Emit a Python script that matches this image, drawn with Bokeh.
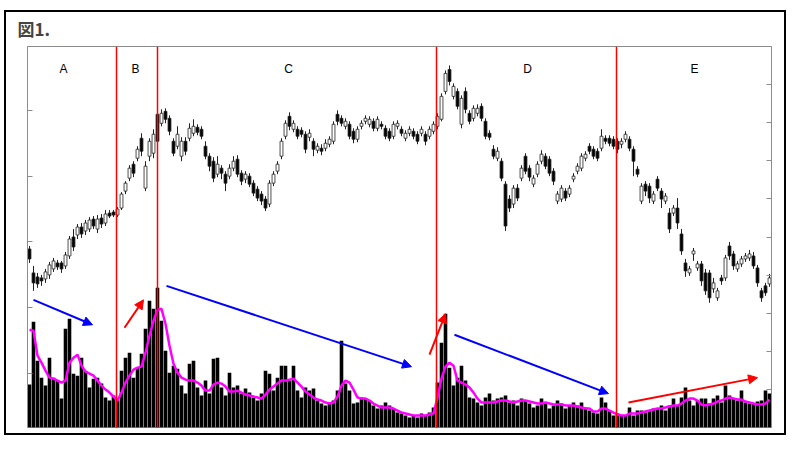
from bokeh.plotting import figure
from bokeh.models import (Range1d, LinearAxis, FixedTicker, Span, Arrow, NormalHead,
                          ColumnDataSource, CustomLabelingPolicy)
from bokeh.embed import file_html
from bokeh.resources import INLINE
from bokeh.core.properties import value

# ---------------- data ----------------
open_ = [252,228,224,223,222,226,232,238,238,235, 245,264,266,274,270,272,282,272,283,278,
         288,289,286,293,310,323,337,343,363,313, 345,348,387,378,390,383,360,355,345,360,
         363,368,374,372,355,345,340,327,333,327, 325,333,342,328,322,325,318,312,307,302,
         297,318,330,345,365,385,372,372,371,367, 364,360,351,353,353,357,360,387,383,375,
         377,370,362,375,380,377,380,373,377,373, 370,365,375,372,363,368,370,367,368,367,
         365,370,375,382,410,432,405,410,377,410, 388,383,388,395,380,368,352,343,340,317,
         302,297,313,323,345,333,317,327,340,345, 342,330,300,302,310,307,322,330,333,343,
         355,352,350,353,363,363,362,360,357,362, 362,352,332,300,317,315,300,322,310,300,
         288,288,293,267,238,228,247,233,237,228, 228,212,203,223,223,255,247,232,237,242,
         243,245,233,210,215,217]
close = [242,218,217,220,229,236,240,234,232,246, 262,254,274,267,278,281,275,282,277,287,
         285,286,292,307,318,333,328,352,350,335, 360,367,360,388,382,370,348,367,360,350,
         373,375,369,365,345,335,323,337,328,318, 333,340,327,320,327,317,308,303,300,293,
         318,327,337,360,378,375,378,365,367,352, 368,352,355,350,358,362,377,380,378,380,
         365,362,372,378,383,382,373,382,375,365, 363,377,378,368,368,372,365,360,372,360,
         372,377,385,405,428,420,415,395,403,392, 380,393,393,383,365,364,345,350,323,275,
         293,313,303,333,330,324,323,337,347,335, 328,320,307,313,303,313,325,335,345,347,
         350,345,343,365,360,358,355,352,360,367, 353,340,327,315,310,303,307,313,302,305,
         272,293,278,250,230,232,250,237,220,210, 203,218,210,220,243,245,235,237,242,245,
         247,235,218,203,208,223]
high = [255,235,228,226,232,239,243,241,240,249, 265,272,277,278,281,284,285,286,287,291,
        291,291,294,309,320,336,340,355,368,340, 363,372,392,392,393,386,363,375,364,364,
        378,382,377,375,360,348,344,345,336,330, 337,345,346,331,330,328,321,315,310,305,
        321,330,340,363,381,389,381,375,374,370, 372,363,358,357,362,365,380,391,386,383,
        380,373,375,381,386,385,383,385,380,376, 373,380,381,375,371,375,373,370,375,370,
        375,380,388,408,431,436,418,413,406,414, 391,396,397,398,383,371,356,354,343,320,
        306,316,317,336,348,336,326,340,351,348, 345,333,310,316,313,316,328,338,348,350,
        358,355,353,372,366,366,365,363,363,370, 365,355,335,318,320,318,310,325,313,308,
        293,296,303,272,242,235,253,240,240,232, 231,223,213,226,246,259,250,240,245,248,
        251,249,236,213,218,227]
low = [238,210,213,215,218,222,229,231,228,232, 242,250,262,263,266,269,272,268,273,275,
       283,284,284,291,307,320,324,340,345,310, 340,343,355,375,378,366,345,352,340,346,
       360,365,366,362,342,330,319,324,322,310, 322,330,324,316,318,314,305,300,296,290,
       294,315,327,342,362,371,369,362,364,348, 360,345,348,346,350,354,357,376,375,372,
       362,358,359,372,377,374,370,370,372,362, 360,362,372,365,360,365,362,357,365,356,
       362,367,372,380,407,416,402,392,373,388, 377,380,385,380,362,361,342,340,320,270,
       289,293,300,320,327,320,314,324,337,332, 325,316,297,299,300,304,319,327,330,340,
       347,342,340,350,357,355,352,348,353,359, 350,325,324,297,305,298,297,310,293,297,
       268,285,272,246,224,225,240,230,215,206, 198,208,200,216,220,241,231,229,234,239,
       240,232,214,199,205,214]
volume = [43,106,67,50,42,70,50,47,29,99, 109,54,52,70,57,40,49,50,44,30,
          27,32,27,57,70,75,50,60,74,99, 127,119,140,107,77,55,62,59,42,34,
          64,67,40,32,47,34,69,70,40,32, 55,40,42,34,39,35,30,27,34,57,
          54,37,50,62,62,47,62,37,30,40, 37,39,27,24,22,25,27,37,87,44,
          37,24,25,30,29,27,22,19,22,25, 22,19,15,14,12,10,12,10,14,12,
          15,20,45,85,114,60,42,50,62,47, 30,29,25,22,30,34,27,29,30,32,
          25,27,22,29,27,24,20,22,29,25, 19,22,27,24,19,22,25,22,25,20,
          17,15,14,30,25,17,12,14,12,12, 20,12,17,17,15,17,19,19,22,17,
          22,29,22,30,40,27,22,27,29,29, 24,29,32,25,42,32,29,27,37,25,
          24,24,26,27,37,34]
volume_ma = [98,97,72,65,57,50,49,47,45,47, 65,70,73,62,56,54,52,47,42,38,
             35,31,27,35,45,52,58,60,61,75, 92,107,118,119,104,82,64,55,50,48,
             47,47,45,42,37,37,43,45,44,41, 36,36,37,35,33,32,31,30,29,33,
             38,41,44,47,47,48,49,45,41,36, 33,30,28,27,25,24,25,31,42,47,
             45,38,30,29,29,27,24,22,20,20, 20,19,17,15,14,13,12,12,12,12,
             13,14,30,49,61,65,62,47,45,43, 40,35,29,25,25,25,25,26,27,27,
             26,25,26,27,27,26,25,24,24,25, 24,23,23,23,22,22,22,21,20,19,
             19,16,16,19,19,17,15,13,12,12, 14,14,14,15,16,17,18,19,19,20,
             21,22,22,24,27,29,29,27,23,22, 23,24,26,27,29,30,29,28,28,26,
             25,24,23,23,24,28]

section_labels = ["A", "B", "C", "D", "E"]
section_label_x = [9.0, 27.0, 65.25, 125.0, 166.75]
section_label_y = [432, 432, 432, 432, 432]
section_bounds = [22.25, 32.5, 102.25, 147.25]

# trend arrows: (x_start, y_start, x_end, y_end, colour)
arrows = [
    (1.5, 201, 16.25, 176, "#0000ff"),
    (24.25, 173, 29.0, 201, "#ff0000"),
    (34.75, 215, 96.0, 134, "#0000ff"),
    (100.5, 146, 104.5, 187, "#ff0000"),
    (106.75, 166, 145.25, 107, "#0000ff"),
    (150.25, 98, 182.5, 123, "#ff0000"),
]

price_ticks = [111.2, 149.4, 187.6, 225.8, 264.0, 302.2, 340.4, 378.6, 416.8]
volume_ticks = [54, 120, 186, 252, 318]

# ---------------- figure ----------------
N = len(open_)
xs = [i + 0.5 for i in range(N)]

p = figure(width=782, height=425, output_backend="svg", toolbar_location=None,
           x_range=Range1d(0, N), y_range=Range1d(73, 455),
           x_axis_location=None, y_axis_location=None,
           min_border_left=21, min_border_right=17, min_border_top=33, min_border_bottom=10,
           background_fill_color="white", border_fill_color="white")
p.styles = {"border": "2px solid black", "margin-left": "4px", "margin-top": "10px"}
p.extra_y_ranges = {"vol": Range1d(0, 382)}
p.grid.visible = False
p.outline_line_color = "#8c8c8c"
p.outline_line_width = 1

p.title.text = "図1."
p.title.text_font = "Noto Sans CJK JP"
p.title.text_font_size = "17px"
p.title.text_font_style = "bold"
p.title.text_line_height = 0.8
p.title.align = "left"
p.title.vertical_align = "top"
p.title.offset = -10
p.title.standoff = 7

no_labels = CustomLabelingPolicy(code="return []")
ax_l = LinearAxis(y_range_name="vol", ticker=FixedTicker(ticks=volume_ticks))
ax_r = LinearAxis(ticker=FixedTicker(ticks=price_ticks))
for ax in (ax_l, ax_r):
    ax.major_tick_in = 5
    ax.major_tick_out = 0
    ax.minor_tick_line_color = None
    ax.major_label_policy = no_labels
    ax.major_label_text_font_size = "0px"
    ax.major_label_standoff = 0
    ax.axis_line_color = "#8c8c8c"
    ax.major_tick_line_color = "#8c8c8c"
p.add_layout(ax_l, "left")
p.add_layout(ax_r, "right")

# volume bars and their moving average
p.vbar(x=xs, top=volume, bottom=0, width=0.9, y_range_name="vol",
       fill_color="black", line_color=None)
p.line(xs, volume_ma, y_range_name="vol", line_color="#ff00ff", line_width=2.5)

# candles
src = ColumnDataSource(dict(
    x=xs, h=high, l=low,
    top=[max(o, c) for o, c in zip(open_, close)],
    bottom=[min(o, c) for o, c in zip(open_, close)],
    fill=["white" if c > o else "black" for o, c in zip(open_, close)],
))
p.segment(x0="x", y0="h", x1="x", y1="l", source=src, line_color="#222222", line_width=1)
p.vbar(x="x", top="top", bottom="bottom", width=0.72, source=src,
       fill_color="fill", line_color="#222222", line_width=0.8)

for loc in section_bounds:
    p.add_layout(Span(location=loc, dimension="height", line_color="#ff0000", line_width=1.5))

for x0, y0, x1, y1, col in arrows:
    p.add_layout(Arrow(end=NormalHead(size=9, fill_color=col, line_color=col),
                       x_start=x0, y_start=y0, x_end=x1, y_end=y1,
                       line_color=col, line_width=2))

p.text(x=section_label_x, y=section_label_y, text=section_labels,
       text_font=value("Liberation Sans"), text_font_size="12px",
       text_align="center", text_baseline="middle", text_color="black")

open("out.html", "w").write(file_html(p, INLINE))
